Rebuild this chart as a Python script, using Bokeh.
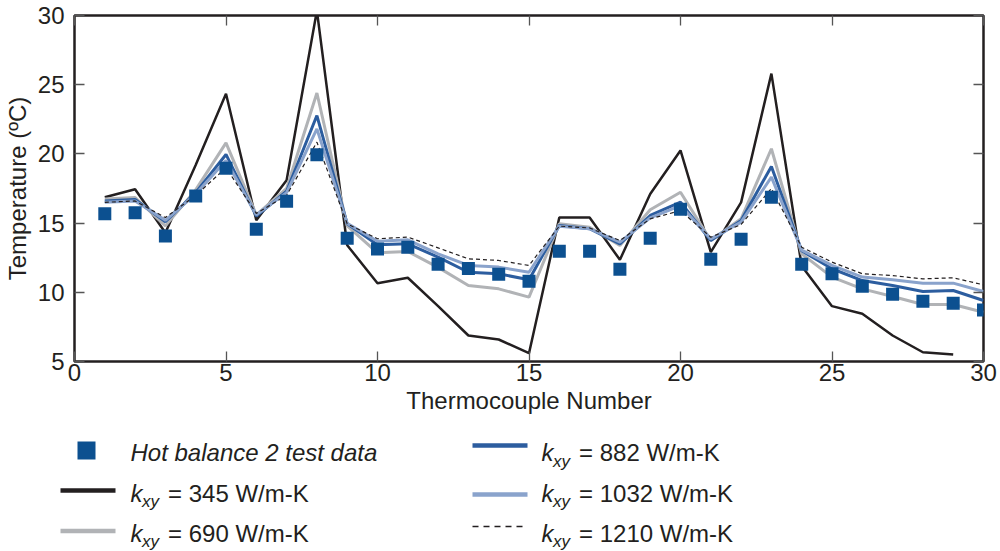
from bokeh.plotting import figure
from bokeh.models import Range1d, LinearAxis, FixedTicker
from bokeh.layouts import column
from bokeh.embed import file_html
from bokeh.resources import INLINE
from bokeh.core.properties import value

# ---------------- data ----------------
thermocouple = list(range(1, 31))
test_data = [15.67, 15.74, 14.06, 16.95, 18.97, 14.56, 16.58, 19.93, 13.91, 13.12,
             13.26, 12.03, 11.72, 11.31, 10.80, 12.97, 12.97, 11.67, 13.91, 16.00,
             12.39, 13.84, 16.87, 12.03, 11.34, 10.44, 9.86, 9.36, 9.21, 8.73]
k345 = [16.87, 17.45, 14.30, 19.20, 24.35, 15.20, 18.10, 30.35, 13.40, 10.66,
        11.05, 9.00, 6.88, 6.59, 5.60, 15.40, 15.40, 12.35, 17.10, 20.25,
        12.90, 16.50, 25.80, 11.90, 9.00, 8.45, 6.88, 5.67, 5.50]
k690 = [16.75, 16.85, 14.80, 17.40, 20.80, 15.60, 17.50, 24.40, 14.80, 12.85,
        12.95, 11.80, 10.49, 10.25, 9.65, 14.95, 14.70, 13.38, 15.96, 17.23,
        13.74, 15.31, 20.37, 12.78, 11.10, 10.25, 9.70, 9.12, 9.12, 8.56]
k882 = [16.60, 16.70, 15.10, 17.20, 19.96, 15.50, 17.30, 22.77, 14.95, 13.43,
        13.50, 12.54, 11.45, 11.34, 10.90, 14.83, 14.59, 13.50, 15.55, 16.51,
        13.74, 15.19, 19.09, 13.00, 11.70, 10.85, 10.49, 10.06, 10.13, 9.41]
k1032 = [16.50, 16.60, 15.20, 17.10, 19.52, 15.60, 17.20, 21.81, 14.98, 13.69,
         13.79, 12.78, 11.94, 11.82, 11.45, 14.78, 14.60, 13.62, 15.38, 16.27,
         13.86, 15.07, 18.32, 13.05, 11.94, 11.10, 10.90, 10.66, 10.66, 10.06]
k1210 = [16.50, 16.60, 15.40, 17.00, 19.00, 15.70, 17.00, 20.85, 14.95, 13.87,
         13.99, 13.21, 12.42, 12.30, 11.94, 14.78, 14.65, 13.74, 15.31, 15.90,
         13.98, 14.90, 17.50, 13.26, 12.18, 11.34, 11.21, 10.97, 11.05, 10.54]

x_ticks = [0, 5, 10, 15, 20, 25, 30]
y_ticks = [5, 10, 15, 20, 25, 30]
test_label = "Hot balance 2 test data"
k_values = ["345", "690", "882", "1032", "1210"]

# ---------------- styles ----------------
FONT = "Liberation Sans"
C_BLACK = "#231f20"
C_GRAY = "#b1b3b6"
C_BLUE = "#2c5d9f"
C_LBLUE = "#8aa3cc"
C_SQ = "#0c5090"
TICK_C = "#555555"

# ---------------- main figure ----------------
p = figure(width=1000, height=420, x_range=Range1d(0, 30), y_range=Range1d(5, 30),
           output_backend="svg", toolbar_location=None,
           min_border_left=73, min_border_right=17, min_border_top=15, min_border_bottom=59)
p.grid.visible = False
p.outline_line_color = C_BLACK
p.outline_line_width = 2.5
p.background_fill_color = "white"
p.border_fill_color = "white"

def style_axis(ax, ticks, show_labels=True):
    ax.ticker = FixedTicker(ticks=ticks)
    ax.major_tick_in = 10
    ax.major_tick_out = 0
    ax.minor_tick_line_color = None
    ax.major_tick_line_color = TICK_C
    ax.major_tick_line_width = 1.3
    ax.axis_line_color = None
    if show_labels:
        ax.major_label_text_font = FONT
        ax.major_label_text_font_size = "24px"
        ax.major_label_text_color = C_BLACK
        ax.axis_label_text_font = FONT
        ax.axis_label_text_font_size = "24px"
        ax.axis_label_text_font_style = "normal"
        ax.axis_label_text_color = C_BLACK
    else:
        ax.major_label_overrides = {t: "" for t in ticks}
        ax.major_label_text_font_size = "1px"
        ax.major_label_standoff = 0

style_axis(p.xaxis[0], x_ticks)
style_axis(p.yaxis[0], y_ticks)
p.xaxis[0].axis_label = "Thermocouple Number"
p.yaxis[0].axis_label = "Temperature (ºC)"
p.xaxis[0].major_label_standoff = 2
p.xaxis[0].axis_label_standoff = 3
p.yaxis[0].major_label_standoff = 10
p.yaxis[0].axis_label_standoff = 4

top_ax = LinearAxis()
right_ax = LinearAxis()
style_axis(top_ax, x_ticks, show_labels=False)
style_axis(right_ax, y_ticks, show_labels=False)
p.add_layout(top_ax, "above")
p.add_layout(right_ax, "right")

p.line(thermocouple[:len(k345)], k345, line_color=C_BLACK, line_width=2.5)
p.line(thermocouple, k690, line_color=C_GRAY, line_width=3)
p.line(thermocouple, k882, line_color=C_BLUE, line_width=3)
p.line(thermocouple, k1032, line_color=C_LBLUE, line_width=3)
p.line(thermocouple, k1210, line_color=C_BLACK, line_width=1.2, line_dash="4 3")
p.scatter(thermocouple, test_data, marker="square", size=13, fill_color=C_SQ, line_color=None)

# ---------------- legend figure (coordinates in page pixels) ----------------
L = figure(width=1000, height=131, x_range=Range1d(0, 1000), y_range=Range1d(131, 0),
           output_backend="svg", toolbar_location=None,
           x_axis_location=None, y_axis_location=None,
           min_border_left=0, min_border_right=0, min_border_top=0, min_border_bottom=0)
L.grid.visible = False
L.outline_line_color = None

for f in (p, L):
    if "frame_align" in f.properties():
        f.frame_align = False

# entry 1: squares
L.scatter([86], [30], marker="square", size=18, fill_color=C_SQ, line_color=None)
L.text([130], [32], text=[test_label], text_font=value(FONT), text_font_size="24px",
       text_font_style="italic", text_baseline="middle", text_color=C_BLACK)

entries = [
    # (k label, line color, width, dash, line x0, x1, line y, text x, text middle y)
    (k_values[0], C_BLACK, 4.5, "solid", 60, 115, 70, 130, 72.5),
    (k_values[1], C_GRAY, 4.5, "solid", 60, 115, 110.5, 130, 112.5),
    (k_values[2], C_BLUE, 4.5, "solid", 472, 527, 25, 541, 32),
    (k_values[3], C_LBLUE, 4.5, "solid", 472, 527, 74, 541, 72.5),
    (k_values[4], C_BLACK, 1.3, "6 5", 472, 527, 106, 541, 112.5),
]
for kv, col, lw, dash, x0, x1, ly, tx, my in entries:
    L.line([x0, x1], [ly, ly], line_color=col, line_width=lw, line_dash=dash)
    L.text([tx], [my], text=["k"], text_font=value(FONT), text_font_size="24px",
           text_font_style="italic", text_baseline="middle", text_color=C_BLACK)
    L.text([tx + 11.4], [my + 8.5], text=["xy"], text_font=value(FONT), text_font_size="17px",
           text_font_style="italic", text_baseline="middle", text_color=C_BLACK)
    L.text([tx + 37.5], [my], text=["= " + kv + " W/m-K"], text_font=value(FONT),
           text_font_size="24px", text_baseline="middle", text_color=C_BLACK)

layout = column(p, L, spacing=0)
open("out.html", "w").write(file_html(layout, INLINE))
